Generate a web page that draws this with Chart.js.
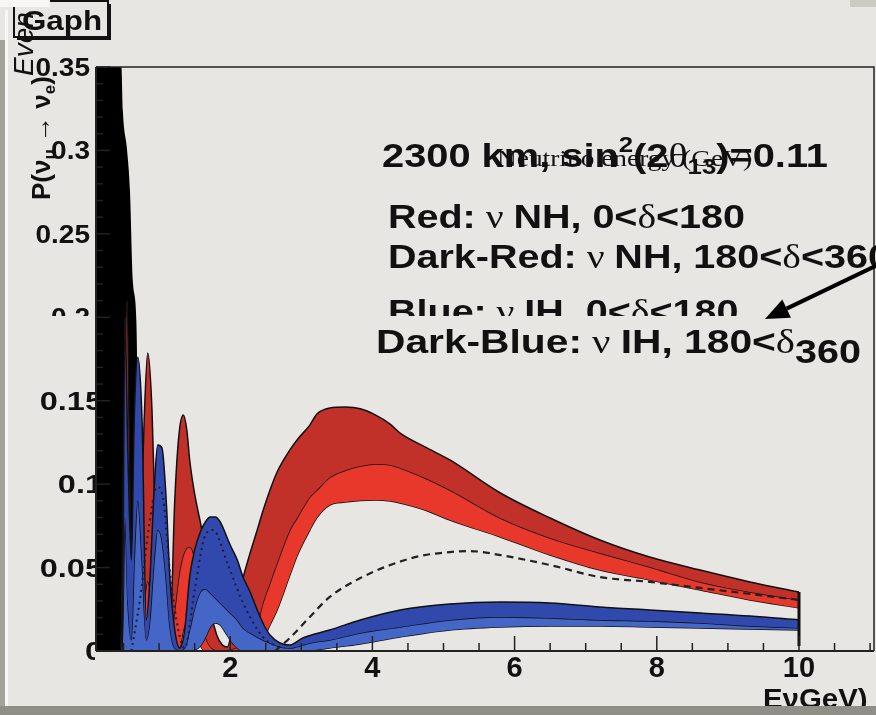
<!DOCTYPE html>
<html><head><meta charset="utf-8">
<script src="https://cdn.jsdelivr.net/npm/chart.js@4"></script>
<style>html,body{margin:0;padding:0;background:#e8e6e3;}canvas{display:block;}</style>
</head><body>
<canvas id="c" width="876" height="715" style="width:876px;height:715px"></canvas>
<script>
// ---- data (energy in GeV, probability) ----
const redX = [0.42,0.46,0.51,0.55,0.59,0.63,0.68,0.73,0.79,0.84,
  0.90,0.96,1.01,1.08,1.15,1.22,1.28,1.34,1.39,1.43,
  1.49,1.55,1.60,1.67,1.74,1.81,1.89,1.96,2.07,2.18,
  2.28,2.38,2.46,2.56,2.66,2.84,2.94,3.12,3.22,3.40,
  3.62,3.83,4.04,4.25,4.39,4.74,5.09,5.80,6.50,7.20,
  7.90,8.61,9.31,10.0];
const redUpper = [0,0,0.15,0.210,0.10,0.02,0.0036,0.0545,0.1384,0.1786,
  0.1444,0.0545,0.0036,0.0018,0.005,0.09,0.13,0.1414,0.1324,0.1145,
  0.0965,0.0833,0.0725,0.0455,0.0216,0.0096,0.0036,0.0024,0.0246,0.0437,
  0.0587,0.0725,0.0839,0.0965,0.1073,0.1205,0.1265,0.1354,0.1420,0.1456,
  0.1462,0.1452,0.1415,0.136,0.1306,0.1223,0.1145,0.0947,0.0797,0.0665,
  0.0563,0.0485,0.0414,0.0354];
const redMid = [0,0,0.06,0.09,0.05,0.008,0.0006,0.0106,0.03,0.042,
  0.03,0.0106,0.0006,0.0006,0.002,0.0246,0.0455,0.0575,0.0617,0.0623,
  0.0575,0.0396,0.0186,0.0066,0.0018,0.0006,0.0006,0.0006,0.0018,0.0036,
  0.0048,0.0156,0.0288,0.0408,0.0527,0.0725,0.0797,0.0923,0.0965,0.1040,
  0.1083,0.1108,0.1121,0.1115,0.1097,0.1037,0.0965,0.0797,0.0677,0.0587,
  0.0503,0.0414,0.0354,0.0306];
const redLower = [0,0,0,0,0,0,0,0,0,0,
  0,0,0,0,0,0,0,0.0126,0.0186,0.0216,
  0.0186,0.0096,0.0018,0,0,0,0,0,0,0,
  0,0.0018,0.0066,0.0156,0.0246,0.0455,0.057,0.0725,0.08,0.0875,
  0.0893,0.0902,0.0905,0.0899,0.0887,0.0845,0.0785,0.0683,0.0575,0.0485,
  0.0426,0.0366,0.0306,0.0258];

const blueX = [0.42,0.48,0.52,0.56,0.61,0.65,0.70,0.76,0.82,0.87,
  0.93,0.98,1.04,1.10,1.15,1.22,1.29,1.36,1.43,1.50,
  1.58,1.65,1.72,1.79,1.86,1.93,2.00,2.10,2.18,2.28,
  2.38,2.46,2.56,2.70,2.84,3.02,3.19,3.40,3.83,4.39,
  5.09,5.80,6.50,7.20,7.90,8.61,9.31,10.0];
const blueUpper = [0,0,0.20,0.12,0.0545,0.1384,0.176,0.1384,0.0186,0.0426,
  0.0965,0.1235,0.1217,0.0905,0.0455,0.0126,0.0018,0.0126,0.0443,0.0605,
  0.0713,0.0773,0.0803,0.0803,0.0773,0.0707,0.0635,0.0545,0.0443,0.0354,
  0.0246,0.0168,0.0096,0.0048,0.0036,0.0078,0.0102,0.0126,0.0186,0.0246,
  0.0282,0.0294,0.0288,0.0264,0.0246,0.0228,0.021,0.0186];
const blueMid = [0,0,0.08,0.03,0.0066,0.0545,0.0905,0.0545,0.0066,0.0186,
  0.0545,0.0725,0.0665,0.0426,0.0156,0.0018,0.0006,0.0018,0.0126,0.0258,
  0.0354,0.0372,0.0348,0.0318,0.0288,0.0258,0.0228,0.0186,0.0138,0.0108,
  0.0084,0.0066,0.0048,0.0024,0.0018,0.0036,0.0054,0.0066,0.0108,0.0144,
  0.0186,0.0204,0.0198,0.0186,0.018,0.0168,0.015,0.0138];
const blueLower = [0,0,0,0,0,0,0,0,0,0,
  0,0,0,0,0,0,0,0,0,0.0006,
  0.003,0.008,0.0144,0.0168,0.0156,0.0114,0.0066,0.0018,0,0,
  0,0,0,0,0,0,0.0006,0.0018,0.0042,0.0084,
  0.0126,0.0144,0.015,0.015,0.0144,0.0138,0.0132,0.0126];

const dashX = [2.63,2.84,3.12,3.40,3.83,4.25,4.67,5.09,5.37,5.80,6.50,7.20,7.90,8.61,9.31,10.0];
const dashY = [0,0.0078,0.0204,0.0324,0.0437,0.0515,0.0569,0.0593,0.0599,0.0575,0.0515,0.0443,0.0414,0.0378,0.0342,0.0306];

const dotX = [0.61,0.73,0.87,0.97,1.06,1.15,1.27,1.36,1.50,1.65,1.76,1.96,2.18,2.46,2.70];
const dotY = [0,0.0306,0.0785,0.0983,0.0905,0.0485,0.0126,0.0018,0.0366,0.0695,0.0725,0.0527,0.0288,0.0084,0.0018];

const blackX = [0.11,0.47,0.49,0.55,0.59,0.63,0.68,0.72,0.76];
const blackY = [0.35,0.35,0.324,0.30,0.276,0.222,0.198,0.09,0];

const xTickValues = [2,4,6,8,10];
const xTickLabels = ['2','4','6','8','10'];
const yTickValues = [0,0.05,0.1,0.15,0.2,0.25,0.3,0.35];
const yTickLabels = ['0','0.05','0.1','0.15','0.2','0.25','0.3','0.35'];

// ---- style ----
const BG = '#e8e6e3';
const darkRed = '#c2302a', lightRed = '#e8372b', darkBlue = '#3149ad', lightBlue = '#4466c6';
const SB = n => `bold ${n}px "Liberation Sans", Arial, sans-serif`;
const SR = n => `${n}px "Liberation Serif", "DejaVu Serif", serif`;
const SI = n => `italic ${n}px "Liberation Sans", Arial, sans-serif`;

const ds = (label, xs, ys, opts) => Object.assign({
  label, data: xs.map((x,i)=>({x, y: ys[i]})), pointRadius:0, borderWidth:1.5,
  borderColor:'#111', fill:false, cubicInterpolationMode:'monotone'
}, opts);

const datasets = [
  ds('dashed', dashX, dashY, {borderDash:[7,5], borderWidth:2.2, borderColor:'#222'}),
  ds('dotted', dotX, dotY, {borderDash:[2,4], borderWidth:2, borderColor:'#1b1b3a'}),
  ds('end', [10,10], [redUpper[redUpper.length-1], 0.003], {borderWidth:3, cubicInterpolationMode:'default', tension:0}),
  ds('blueUpper', blueX, blueUpper, {fill:4, backgroundColor:darkBlue}),
  ds('blueMid', blueX, blueMid, {fill:5, backgroundColor:lightBlue}),
  ds('blueLower', blueX, blueLower, {}),
  ds('redUpper', redX, redUpper, {fill:7, backgroundColor:darkRed}),
  ds('redMid', redX, redMid, {fill:8, backgroundColor:lightRed}),
  ds('redLower', redX, redLower, {}),
  ds('black', blackX, blackY, {fill:'origin', backgroundColor:'#000', borderWidth:0, borderColor:'#000'})
];

function richWidth(ctx, pieces){ let w=0; for(const p of pieces){ ctx.font=p.f; w+=ctx.measureText(p.t).width; } return w; }
function drawRich(ctx, pieces, x, y, sx){
  ctx.save(); ctx.translate(x,y); ctx.scale(sx,1); let cx=0;
  for(const p of pieces){ ctx.font=p.f; ctx.fillText(p.t, cx, p.dy||0); cx+=ctx.measureText(p.t).width; }
  ctx.restore();
}

const decor = {
  id:'decor',
  beforeDraw(chart){
    const c=chart.ctx; c.save(); c.fillStyle=BG; c.fillRect(0,0,chart.width,chart.height); c.restore();
  },
  afterDatasetsDraw(chart){
    const c=chart.ctx, a=chart.chartArea, xs=chart.scales.x, ys=chart.scales.y;
    c.save();
    c.strokeStyle='#222'; c.lineWidth=1.5;
    c.beginPath(); c.moveTo(a.left,a.top); c.lineTo(a.right,a.top); c.lineTo(a.right,a.bottom); c.stroke();
    c.lineWidth=2;
    c.beginPath(); c.moveTo(a.left,a.bottom); c.lineTo(a.right,a.bottom); c.moveTo(a.left,a.top); c.lineTo(a.left,a.bottom); c.stroke();
    c.lineWidth=1.5;
    for(let v=0.5; v<=xs.max; v+=0.5){
      const px=xs.getPixelForValue(v); if(px<a.left) continue;
      const major = Math.abs(v/2-Math.round(v/2))<1e-6;
      c.beginPath(); c.moveTo(px,a.bottom); c.lineTo(px,a.bottom-(major?15:8)); c.stroke();
    }
    for(let i=0;i<=35;i++){
      const v=i*0.01, py=ys.getPixelForValue(v), major=(i%5===0);
      c.beginPath(); c.moveTo(a.left,py); c.lineTo(a.left+(major?14:7),py); c.stroke();
    }
    c.restore();
  },
  afterDraw(chart){
    const c=chart.ctx, xs=chart.scales.x, ys=chart.scales.y, a=chart.chartArea;
    c.save();
    c.fillStyle='#111'; c.textBaseline='alphabetic';
    c.font=SB(29); c.textAlign='center';
    xTickValues.forEach((v,i)=>c.fillText(xTickLabels[i], xs.getPixelForValue(v), 677));
    c.textAlign='right';
    yTickValues.forEach((v,i)=>{
      const py=ys.getPixelForValue(v);
      c.save();
      c.font=SB(25);
      if(v>=0.2){
        c.beginPath(); c.rect(0,0,a.left,316); c.clip();
        c.translate(90,py+9); c.scale(1.12,1);
      } else {
        c.beginPath(); c.rect(0,0,95,715); c.clip();
        c.translate(103,py+9); c.scale(1.3,1);
      }
      c.fillText(yTickLabels[i],0,0);
      c.restore();
    });
    c.textAlign='left';
    c.strokeStyle='#111'; c.lineWidth=2; c.strokeRect(14,1,94,36);
    c.fillStyle='#111'; c.fillRect(108,4,3,36); c.fillRect(17,37,94,3);
    const gp=[{t:'Gaph',f:SB(28)}];
    drawRich(c, gp, 22, 30, 80/richWidth(c,gp));
    c.save(); c.translate(33,76); c.rotate(-Math.PI/2); c.font=SI(28); c.fillText('Even',0,0); c.restore();
    c.save(); c.translate(50,200); c.rotate(-Math.PI/2);
    drawRich(c,[{t:'P(ν',f:SB(26)},{t:'μ',f:SB(17),dy:5},{t:' → ν',f:SB(26)},{t:'e',f:SB(17),dy:5},{t:')',f:SB(26)}],0,0,1);
    c.restore();
    const row1=[{t:'2300 km, sin',f:SB(34)},{t:'2',f:SB(22),dy:-15},{t:'(2',f:SB(34)},{t:'θ',f:SR(34)},{t:'13',f:SB(22),dy:7},{t:')=0.11',f:SB(34)}];
    drawRich(c,row1,382,167,446/richWidth(c,row1));
    const ne=[{t:'Neutrino energy (GeV)',f:SR(24)}];
    drawRich(c,ne,497,166,255/richWidth(c,ne));
    const row3=[{t:'Red:',f:SB(34)},{t:' ν ',f:SR(34)},{t:'NH, 0<',f:SB(34)},{t:'δ',f:SR(34)},{t:'<180',f:SB(34)}];
    const s=357/richWidth(c,row3);
    drawRich(c,row3,388,228,s);
    drawRich(c,[{t:'Dark-Red:',f:SB(34)},{t:' ν ',f:SR(34)},{t:'NH, 180<',f:SB(34)},{t:'δ',f:SR(34)},{t:'<360',f:SB(34)}],388,268,s);
    c.save(); c.beginPath(); c.rect(0,0,876,316); c.clip();
    drawRich(c,[{t:'Blue:',f:SB(34)},{t:' ν ',f:SR(34)},{t:'IH, 0<',f:SB(34)},{t:'δ',f:SR(34)},{t:'<180',f:SB(34)}],388,323,s);
    c.restore();
    const row6=[{t:'Dark-Blue:',f:SB(34)},{t:' ν ',f:SR(34)},{t:'IH, 180<',f:SB(34)},{t:'δ',f:SR(34)}];
    drawRich(c,row6,376,353,419/richWidth(c,row6));
    drawRich(c,[{t:'360',f:SB(34)}],795,363,s);
    const tip=[765,319], st=[884,262];
    const dx=tip[0]-st[0], dy=tip[1]-st[1], L=Math.hypot(dx,dy), ux=dx/L, uy=dy/L;
    const bx=tip[0]-24*ux, by=tip[1]-24*uy;
    c.strokeStyle='#000'; c.lineWidth=4;
    c.beginPath(); c.moveTo(st[0],st[1]); c.lineTo(bx,by); c.stroke();
    c.fillStyle='#000'; c.beginPath(); c.moveTo(tip[0],tip[1]);
    c.lineTo(bx-10*uy, by+10*ux); c.lineTo(bx+10*uy, by-10*ux); c.closePath(); c.fill();
    c.fillStyle='#111';
    drawRich(c,[{t:'EνGeV)',f:SB(28)}],763,708,1.05);
    c.fillStyle='#8f8f88'; c.fillRect(0,706,876,9);
    c.fillStyle='#a3a39b'; c.fillRect(0,40,5,666);
    c.fillStyle='#f7f7f5'; c.fillRect(5,10,3,696); c.fillRect(0,0,50,7);
    c.fillStyle='#cbcbc3'; c.fillRect(850,0,26,7);
    c.restore();
  }
};

new Chart(document.getElementById('c'), {
  type:'line',
  data:{ datasets },
  options:{
    responsive:false, animation:false, devicePixelRatio:1,
    layout:{ padding:{ left:96, top:67, right:2, bottom:64 } },
    scales:{
      x:{ type:'linear', min:0.1125, max:11.055, display:false },
      y:{ type:'linear', min:0, max:0.35, display:false }
    },
    plugins:{ legend:{display:false}, tooltip:{enabled:false}, filler:{propagate:false} },
    elements:{ point:{ radius:0 } }
  },
  plugins:[decor]
});
</script>
</body></html>
